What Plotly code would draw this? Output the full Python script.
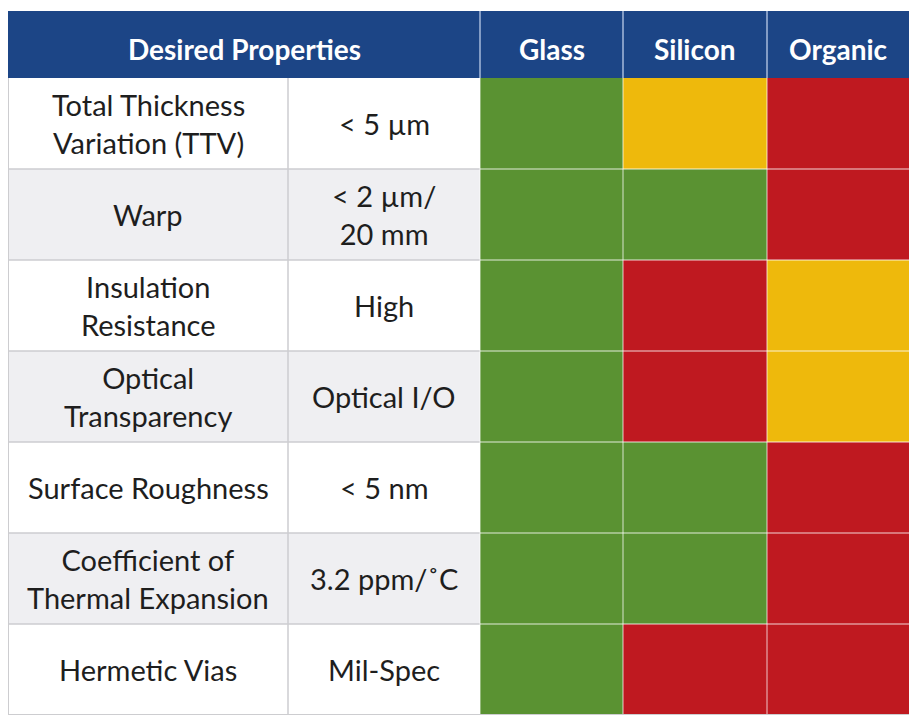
import plotly.graph_objects as go

# table content
materials = ["Glass", "Silicon", "Organic"]
properties = ["Total Thickness<br>Variation (TTV)", "Warp", "Insulation<br>Resistance",
              "Optical<br>Transparency", "Surface Roughness", "Coefficient of<br>Thermal Expansion",
              "Hermetic Vias"]
targets = ["< 5 µm", "< 2 µm/<br>20 mm", "High", "Optical I/O", "< 5 nm", "3.2 ppm/˚C", "Mil-Spec"]
# 0 = poor (red), 1 = fair (yellow), 2 = good (green)
glass = [2, 2, 2, 2, 2, 2, 2]
silicon = [1, 2, 0, 0, 2, 2, 0]
organic = [0, 0, 1, 1, 0, 0, 0]

# geometry (in "pixels" of the plot area)
col_edges = [0, 280, 472, 615, 759, 902]
header_h = 67
row_h = 91
row_edges = [header_h + i * row_h for i in range(len(properties) + 1)]
total_h = row_edges[-1]

BLUE = "#1c4586"
GREEN = "#5a9232"
YELLOW = "#eeb90c"
RED = "#bf1920"
GRAY_ROW = "#efeff2"
LINE = "#cdcdd0"
FONT = "Lato"

fig = go.Figure()

# header band
fig.add_trace(go.Heatmap(
    x=[0, col_edges[2]] + col_edges[3:], y=[0, header_h],
    z=[[0] * 4], colorscale=[[0, BLUE], [1, BLUE]], showscale=False, hoverinfo="skip"))

# property / target cells with alternating stripes
stripes = [[i % 2, i % 2] for i in range(len(properties))]
fig.add_trace(go.Heatmap(
    x=col_edges[:3], y=row_edges, z=stripes,
    colorscale=[[0, "white"], [1, GRAY_ROW]], zmin=0, zmax=1, showscale=False, hoverinfo="skip"))

# rating cells
ratings = [[g, s, o] for g, s, o in zip(glass, silicon, organic)]
fig.add_trace(go.Heatmap(
    x=col_edges[2:], y=row_edges, z=ratings, zmin=0, zmax=2,
    colorscale=[[0, RED], [1 / 3, RED], [1 / 3, YELLOW], [2 / 3, YELLOW], [2 / 3, GREEN], [1, GREEN]],
    showscale=False, hoverinfo="skip"))

shapes = []
# horizontal lines
for y in row_edges[1:-1]:
    shapes.append(dict(type="line", x0=col_edges[0], x1=col_edges[2], y0=y, y1=y,
                       line=dict(color=LINE, width=1.5)))
    shapes.append(dict(type="line", x0=col_edges[2], x1=col_edges[-1], y0=y, y1=y,
                       line=dict(color="rgba(255,255,255,0.55)", width=1.5)))
# vertical lines
shapes.append(dict(type="line", x0=col_edges[1], x1=col_edges[1], y0=header_h, y1=total_h,
                   line=dict(color=LINE, width=1.5)))
for x in col_edges[2:-1]:
    shapes.append(dict(type="line", x0=x, x1=x, y0=0, y1=header_h,
                       line=dict(color="rgba(200,215,240,0.8)", width=1.5)))
    shapes.append(dict(type="line", x0=x, x1=x, y0=header_h, y1=total_h,
                       line=dict(color="rgba(255,255,255,0.5)", width=1.5)))
# outer border on the left and bottom
shapes.append(dict(type="line", x0=0, x1=0, y0=header_h, y1=total_h, line=dict(color=LINE, width=2)))
shapes.append(dict(type="line", x0=0, x1=col_edges[-1], y0=total_h, y1=total_h, line=dict(color=LINE, width=2)))
for s in shapes:
    s.update(xref="x", yref="y", layer="above")

annotations = []
annotations.append(dict(x=col_edges[2] / 2, y=header_h / 2, text="<b>Desired Properties</b>",
                        yshift=-4, font=dict(family=FONT, size=28, color="white")))
for i, m in enumerate(materials):
    annotations.append(dict(x=(col_edges[2 + i] + col_edges[3 + i]) / 2, y=header_h / 2,
                            text="<b>%s</b>" % m, yshift=-4,
                            font=dict(family=FONT, size=28, color="white")))
for i, (p, t) in enumerate(zip(properties, targets)):
    yc = (row_edges[i] + row_edges[i + 1]) / 2
    annotations.append(dict(x=(col_edges[0] + col_edges[1]) / 2, y=yc, text=p,
                            font=dict(family=FONT, size=29, color="#1e1e1e")))
    annotations.append(dict(x=(col_edges[1] + col_edges[2]) / 2, y=yc, text=t,
                            font=dict(family=FONT, size=29, color="#1e1e1e")))
for a in annotations:
    a.update(xref="x", yref="y", showarrow=False, xanchor="center", yanchor="middle")

# the page body adds an 8px offset, so the margins are trimmed to match
fig.update_layout(
    width=909, height=717,
    margin=dict(l=0, r=7, t=3, b=10),
    paper_bgcolor="white", plot_bgcolor="white",
    xaxis=dict(range=[0, col_edges[-1]], visible=False, fixedrange=True),
    yaxis=dict(range=[total_h, 0], visible=False, fixedrange=True),
    shapes=shapes, annotations=annotations,
)

fig.write_html("out.html")
